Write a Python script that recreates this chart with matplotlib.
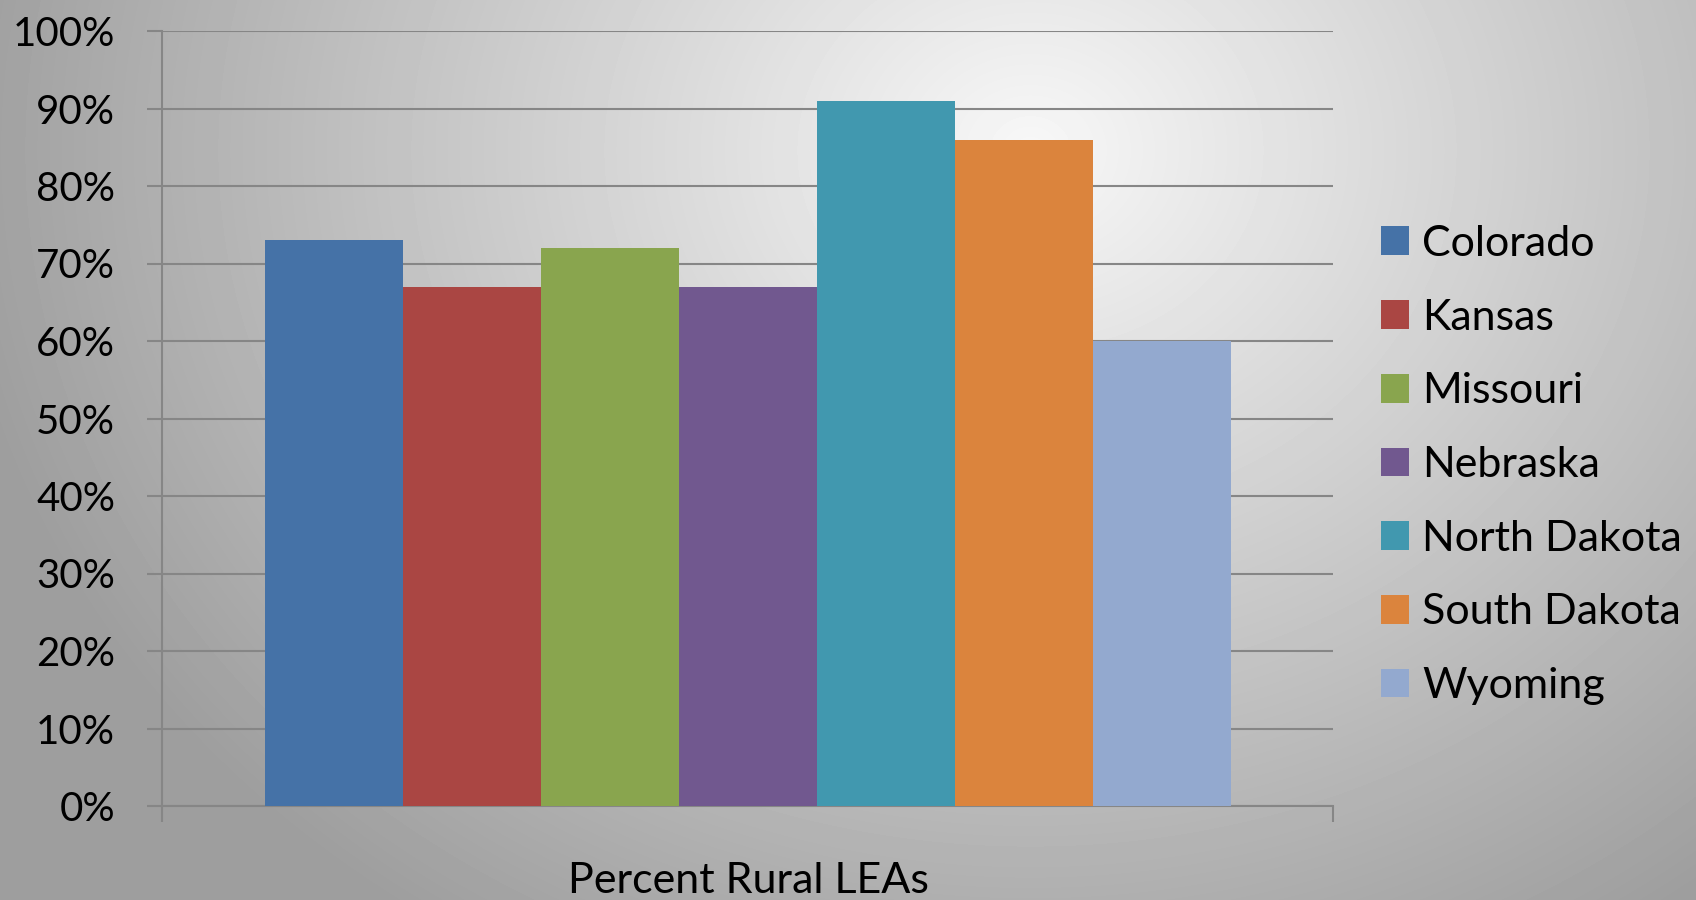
import numpy as np
import matplotlib.pyplot as plt
from matplotlib.patches import Patch

plt.rcParams['font.family'] = ['Lato', 'DejaVu Sans']

# 数据
states = ["Colorado", "Kansas", "Missouri", "Nebraska", "North Dakota", "South Dakota", "Wyoming"]
values = [73, 67, 72, 67, 91, 86, 60]
colors = ["#4572A7", "#AA4643", "#89A54E", "#71588F", "#4198AF", "#DB843D", "#93A9CF"]
yticks = [0, 10, 20, 30, 40, 50, 60, 70, 80, 90, 100]
xlabel = "Percent Rural LEAs"

grid_col = "#868686"

fig = plt.figure(figsize=(16.96, 9), dpi=100)

# 背景径向渐变
bg = fig.add_axes([0, 0, 1, 1], zorder=-10)
yy, xx = np.mgrid[0:900, 0:1696]
r = np.sqrt(((xx - 1030) / 1050.0) ** 2 + ((yy - 150) / 900.0) ** 2)
shade = np.clip(0.97 - 0.34 * r, 0.62, 1.0)
bg.imshow(shade, cmap='gray', vmin=0, vmax=1, aspect='auto', extent=[0, 1, 0, 1], origin='upper')
bg.set_axis_off()

ax = fig.add_axes([162 / 1696, 1 - 806 / 900, (1333 - 162) / 1696, (806 - 31) / 900])
ax.patch.set_alpha(0)

# 柱子
n = len(values)
w = 966 / 1171 / n
start = -0.5 + 103 / 1171
for i, (v, c) in enumerate(zip(values, colors)):
    ax.bar(start + w * (i + 0.5), v, width=w, color=c, linewidth=0, zorder=3)

ax.set_xlim(-0.5, 0.5)
ax.set_ylim(0, 100)
ax.set_yticks(yticks)
ax.set_yticklabels([f"{t}%" for t in yticks], fontsize=29)
ax.set_xticks([-0.5, 0.5])
ax.set_xticklabels([])
ax.yaxis.grid(True, color=grid_col, linewidth=1.5, zorder=1)
ax.set_axisbelow(True)

for s in ["top", "right"]:
    ax.spines[s].set_visible(False)
for s in ["left", "bottom"]:
    ax.spines[s].set_color(grid_col)
    ax.spines[s].set_linewidth(1.5)
ax.tick_params(axis='y', length=10.8, width=1.5, color=grid_col, pad=23)
ax.tick_params(axis='x', length=11.5, width=1.5, color=grid_col)

# 图例
handles = [Patch(facecolor=c, edgecolor='none', label=s) for s, c in zip(states, colors)]
fig.legend(handles=handles, loc='center left', bbox_to_anchor=(1381 / 1696, 1 - 465 / 900),
           frameon=False, fontsize=31, borderpad=0, borderaxespad=0,
           handlelength=0.65, handleheight=0.65, handletextpad=0.3, labelspacing=0.83)

fig.text(748 / 1696, 1 - 893 / 900, xlabel, fontsize=31, ha='center', va='baseline')

plt.savefig("out.png", dpi=100)
plt.close()
